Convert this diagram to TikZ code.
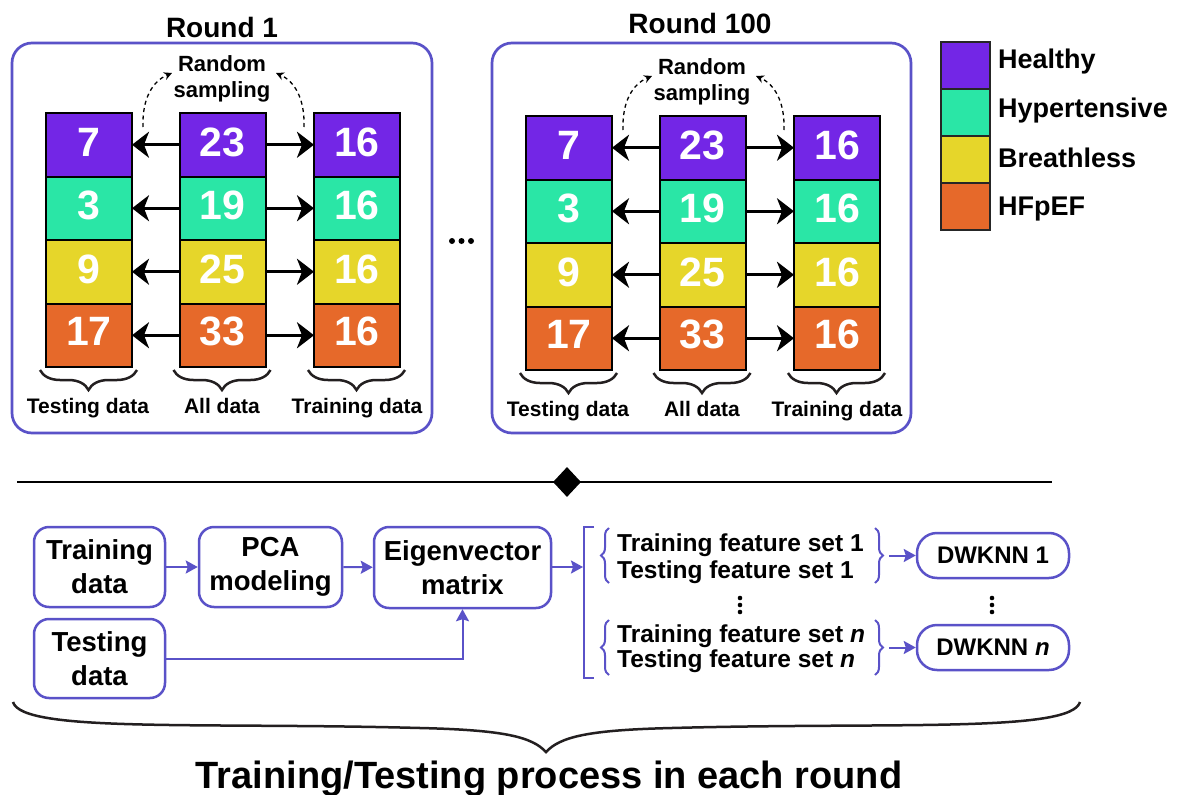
\documentclass[tikz,border=0pt]{standalone}
\usepackage{fontspec}
\setmainfont{Liberation Sans}
\usetikzlibrary{arrows.meta,decorations.pathreplacing,shapes.geometric}
\definecolor{bx}{RGB}{90,82,200}
\definecolor{cP}{RGB}{115,38,230}
\definecolor{cT}{RGB}{42,230,166}
\definecolor{cY}{RGB}{230,214,42}
\definecolor{cO}{RGB}{230,105,42}
\definecolor{brk}{RGB}{35,31,32}
\newcommand{\fsz}[2]{\fontsize{#1}{#2}\selectfont}
\newcommand{\roundcontent}[1]{%
  % columns: a = testing, b = all, c = training
  \node[cell,fill=cP] (#1a1) at (89,144.75) {};
  \node[cell,fill=cT] (#1a2) at (89,208.25) {};
  \node[cell,fill=cY] (#1a3) at (89,271.75) {};
  \node[cell,fill=cO] (#1a4) at (89,335.25) {};
  \node[cell,fill=cP] (#1b1) at (222.5,144.75) {};
  \node[cell,fill=cT] (#1b2) at (222.5,208.25) {};
  \node[cell,fill=cY] (#1b3) at (222.5,271.75) {};
  \node[cell,fill=cO] (#1b4) at (222.5,335.25) {};
  \node[cell,fill=cP] (#1c1) at (357,144.75) {};
  \node[cell,fill=cT] (#1c2) at (357,208.25) {};
  \node[cell,fill=cY] (#1c3) at (357,271.75) {};
  \node[cell,fill=cO] (#1c4) at (357,335.25) {};
  \node[num] at ([yshift=3pt]#1a1.center) {7};
  \node[num] at ([yshift=3pt]#1a2.center) {3};
  \node[num] at ([yshift=3pt]#1a3.center) {9};
  \node[num] at ([yshift=4pt]#1a4.center) {17};
  \node[num] at ([yshift=3pt]#1b1.center) {23};
  \node[num] at ([yshift=3pt]#1b2.center) {19};
  \node[num] at ([yshift=3pt]#1b3.center) {25};
  \node[num] at ([yshift=4pt]#1b4.center) {33};
  \node[num] at ([yshift=3pt]#1c1.center) {16};
  \node[num] at ([yshift=3pt]#1c2.center) {16};
  \node[num] at ([yshift=3pt]#1c3.center) {16};
  \node[num] at ([yshift=4pt]#1c4.center) {16};
  \foreach \r in {1,2,3,4}{
    \draw[harr] (#1b\r.west) -- (#1a\r.east);
    \draw[harr] (#1b\r.east) -- (#1c\r.west);
  }
  \node[rs] (#1rs1) at (222,71) {Random};
  \node[rs] (#1rs2) at (222,97) {sampling};
  \coordinate (#1d1) at (143,127);
  \coordinate (#1d2) at (172,73);
  \coordinate (#1d3) at (304,127);
  \coordinate (#1d4) at (276,73);
  \draw[dsh] (#1d1) .. controls (142,98) and (153,81) .. (#1d2);
  \draw[dsh] (#1d3) .. controls (305,98) and (294,81) .. (#1d4);
  \draw[brc] ([xshift=5pt,yshift=-3pt]#1a4.south east) -- ([xshift=-6pt,yshift=-3pt]#1a4.south west);
  \draw[brc] ([xshift=5pt,yshift=-3pt]#1b4.south east) -- ([xshift=-6pt,yshift=-3pt]#1b4.south west);
  \draw[brc] ([xshift=5pt,yshift=-3pt]#1c4.south east) -- ([xshift=-6pt,yshift=-3pt]#1c4.south west);
  \node[lbl] at (88,413) {Testing data};
  \node[lbl] at (222,413) {All data};
  \node[lbl] at (357,413) {Training data};
}
\begin{document}
\begin{tikzpicture}[x=1pt,y=-1pt,
  cell/.style={draw=black,line width=2pt,minimum width=86pt,minimum height=63.5pt,inner sep=0pt,outer sep=0pt},
  num/.style={text=white,font=\bfseries\fsz{41}{41},inner sep=0pt,text height=29.3pt,text depth=0pt},
  harr/.style={line width=3pt,-{Stealth[length=17pt,width=26pt,inset=5pt]}},
  rbox/.style={draw=bx,line width=2.7pt,rounded corners=20pt},
  rs/.style={font=\bfseries\fsz{22}{26},inner sep=0pt,anchor=base},
  dsh/.style={line width=1.3pt,dash pattern=on 4pt off 3.5pt,-{Stealth[length=8pt,width=8pt]}},
  brc/.style={decorate,decoration={brace,amplitude=20pt},line width=2.5pt,draw=brk},
  lbl/.style={font=\bfseries\fsz{21}{25},inner sep=0pt,anchor=base},
  ttl/.style={font=\bfseries\fsz{28}{32},inner sep=0pt,anchor=base},
  legsq/.style={draw=black!85,line width=1.5pt,minimum width=49pt,minimum height=47pt,inner sep=0pt},
  leglbl/.style={font=\bfseries\fsz{27}{30},inner sep=0pt,anchor=base west},
  fbox/.style={draw=bx,line width=2.5pt,rounded corners=15pt,align=center,font=\bfseries\fsz{27.5}{34},inner sep=0pt},
  barr/.style={draw=bx,line width=2pt,-{Stealth[length=12pt,width=13pt,inset=2pt]}},
  ft/.style={font=\bfseries\fsz{24.5}{26},inner sep=0pt,anchor=base west},
  fbr/.style={decorate,decoration={brace,amplitude=8pt},line width=2pt,draw=bx},
  dk/.style={draw=bx,line width=2.5pt,rounded corners=20pt,minimum width=152pt,minimum height=45pt,inner sep=0pt,font=\bfseries\fsz{24}{26}}
]
\fill[white] (0,0) rectangle (1179,795);
\useasboundingbox (0,0) rectangle (1179,795);

% ---------- Round boxes ----------
\draw[rbox] (12,43) rectangle (432,433);
\draw[rbox] (492,43) rectangle (911,433);
\node[ttl] (t1) at (222,37) {Round 1};
\node[ttl] (t100) at (700,34) {Round 100};

\roundcontent{A}
\begin{scope}[shift={(480,3)}]
\roundcontent{B}
\end{scope}

% dots between rounds
\fill (452,241) circle (3pt);
\fill (461.5,241) circle (3pt);
\fill (471,241) circle (3pt);

% ---------- Legend ----------
\node[legsq,fill=cP] (l1) at (965.5,65.5) {};
\node[legsq,fill=cT] (l2) at (965.5,112.5) {};
\node[legsq,fill=cY] (l3) at (965.5,159.5) {};
\node[legsq,fill=cO] (l4) at (965.5,206.5) {};
\node[leglbl] (ll1) at (998,68) {Healthy};
\node[leglbl] (ll2) at (998,117) {Hypertensive};
\node[leglbl] (ll3) at (998,167) {Breathless};
\node[leglbl] (ll4) at (998,215) {HFpEF};

% ---------- Separator ----------
\coordinate (sepL) at (17,482);
\coordinate (sepR) at (1052,482);
\draw[line width=2.5pt] (sepL) -- (sepR);
\node[diamond,fill=black,minimum width=28pt,minimum height=30pt,inner sep=0pt] (dia) at (567,482) {};

% ---------- Flow ----------
\node[fbox,minimum width=131pt,minimum height=80pt] (tr) at (99.5,567) {Training\\data};
\node[fbox,minimum width=143pt,minimum height=80pt] (pca) at (270.5,567) {PCA\\modeling};
\node[fbox,minimum width=177pt,minimum height=81pt] (eig) at (462.5,567.5) {Eigenvector\\matrix};
\node[fbox,minimum width=131pt,minimum height=79pt] (te) at (99.5,658.5) {Testing\\data};
\coordinate (bkin) at (583,567);
\draw[barr] (tr) -- (pca);
\draw[barr] (pca) -- (eig);
\draw[barr] (eig.east |- bkin) -- (bkin);
\draw[barr] (te.east) -- (te.east -| eig.south) -- (eig.south);

% bracket
\coordinate (bk1) at (594,527);
\coordinate (bk2) at (584,527);
\coordinate (bk3) at (584,678);
\coordinate (bk4) at (594,678);
\draw[draw=bx,line width=2.5pt] (bk1) -- (bk2) -- (bk3) -- (bk4);

% feature sets
\node[ft] (f1) at (617,551) {Training feature set 1};
\node[ft] (f2) at (617,578) {Testing feature set 1};
\node[ft] (f3) at (617,642) {Training feature set \textit{n}};
\node[ft] (f4) at (617,667) {Testing feature set \textit{n}};
\draw[fbr] (609,583) -- (609,528);
\draw[fbr] (875,528) -- (875,583);
\draw[fbr] (609,675) -- (609,620);
\draw[fbr] (875,620) -- (875,675);

\node[dk] (dk1) at (993,555.5) {DWKNN 1};
\node[dk] (dkn) at (993,647.5) {DWKNN \textit{n}};
\coordinate (a1s) at (889,555.5);
\coordinate (ans) at (889,647.5);
\draw[barr] (a1s) -- (dk1);
\draw[barr] (ans) -- (dkn);

% vertical dots
\foreach \yy in {598,605,612}{
  \fill (740,\yy) circle (2.3pt);
  \fill (992,\yy) circle (2.3pt);
}

% ---------- Bottom brace ----------
\draw[line width=2.5pt,draw=brk] (13,702) .. controls (22,733) and (200,722) .. (420,728)
  .. controls (505,730) and (532,737) .. (546,752)
  .. controls (560,737) and (587,730) .. (672,728)
  .. controls (892,722) and (1071,733) .. (1080,702);
\node[font=\bfseries\fsz{38}{40},inner sep=0pt,anchor=base] (cap) at (549,788) {Training/Testing process in each round};
\end{tikzpicture}
\end{document}
